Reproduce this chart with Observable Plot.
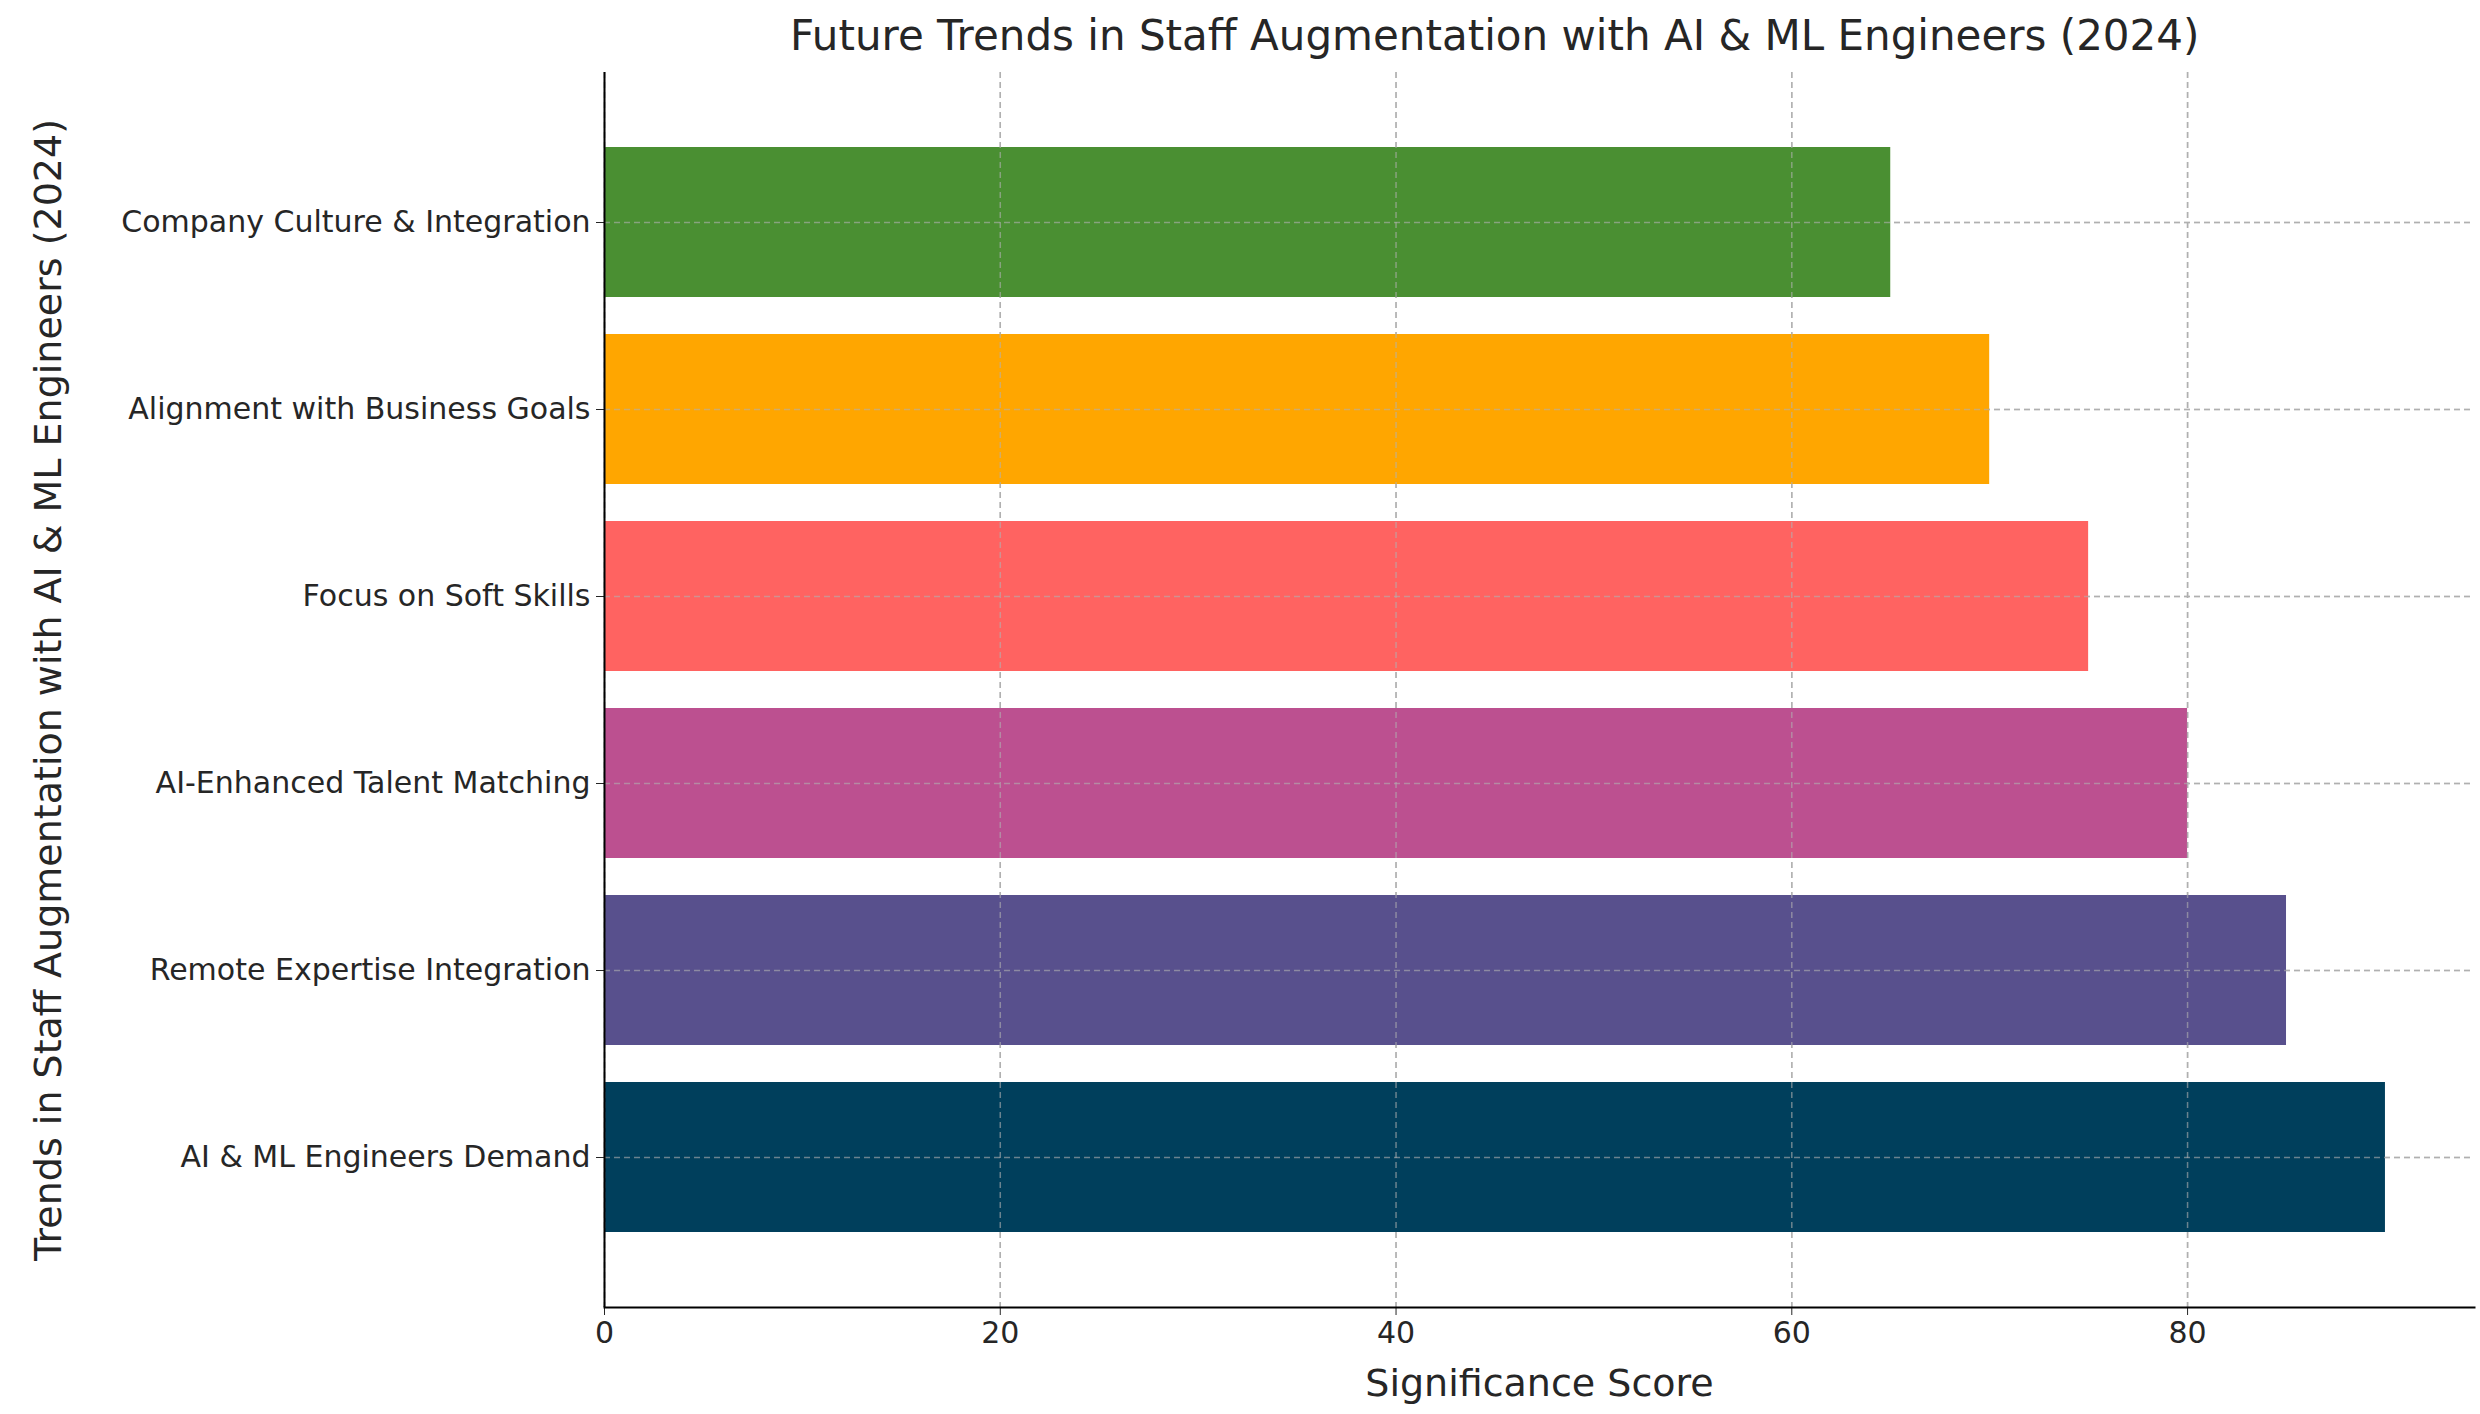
<!DOCTYPE html>
<html><head><meta charset="utf-8">
<script src="https://cdn.jsdelivr.net/npm/d3@7"></script>
<script src="https://cdn.jsdelivr.net/npm/@observablehq/plot@0.6"></script>
<style>
body{margin:0;background:#fff;font-family:"DejaVu Sans",sans-serif;}
#title{height:64px;line-height:72px;font-size:42px;color:#262626;text-align:center;padding-left:1050px;box-sizing:border-box;white-space:nowrap;}
#title span{display:inline-block;transform:translateX(-1050px);margin-left:0}
</style></head><body>
<div id="title" style="padding-left:0;text-align:left"><span style="transform:none;margin-left:790px">Future Trends in Staff Augmentation with AI &amp; ML Engineers (2024)</span></div>
<div id="chart"></div>
<script>
const categories = ["Company Culture & Integration","Alignment with Business Goals","Focus on Soft Skills","AI-Enhanced Talent Matching","Remote Expertise Integration","AI & ML Engineers Demand"];
const scores = [65,70,75,80,85,90];
const colors = ["#4a8f32","#ffa600","#ff6361","#bc5090","#58508d","#003f5c"];
const xTicks = [0,20,40,60,80];
const data = categories.map((c,i)=>({c, v:scores[i], col:colors[i]}));
const chart = Plot.plot({
  width:2480, height:1350,
  marginTop:8, marginBottom:107, marginLeft:604, marginRight:6,
  style:{fontFamily:"DejaVu Sans", fontSize:"30px", color:"#262626"},
  x:{domain:[0,94.5]},
  y:{domain:categories, padding:0.2, insetTop:36, insetBottom:36},
  marks:[
    Plot.gridX(xTicks,{stroke:"#b0b0b0", strokeOpacity:1, strokeDasharray:"6,4", strokeWidth:1.5}),
    Plot.gridY({stroke:"#b0b0b0", strokeOpacity:1, strokeDasharray:"6,4", strokeWidth:1.5}),
    Plot.barX(data,{x:"v", y:"c", fill:"col"}),
    Plot.gridX(xTicks,{stroke:"#b0b0b0", strokeOpacity:0.6, strokeDasharray:"6,4", strokeWidth:1.5}),
    Plot.gridY({stroke:"#b0b0b0", strokeOpacity:0.6, strokeDasharray:"6,4", strokeWidth:1.5}),
    Plot.axisX(xTicks,{tickSize:8, tickPadding:6, fontSize:30, label:"Significance Score", labelAnchor:"center", labelArrow:"none", labelOffset:88, fontSize:30}),
    Plot.axisY({tickSize:8, tickPadding:6, fontSize:30, label:"Trends in Staff Augmentation with AI & ML Engineers (2024)", labelAnchor:"center", labelArrow:"none", labelOffset:570}),
    Plot.ruleX([0],{stroke:"#000", strokeWidth:2}),
    Plot.frame({anchor:"bottom", stroke:"#000", strokeWidth:2})
  ]
});
d3.select(chart).selectAll("g[aria-label='x-axis label'] text, g[aria-label='y-axis label'] text").style("font-size","38px");
document.getElementById("chart").appendChild(chart);
</script></body></html>
